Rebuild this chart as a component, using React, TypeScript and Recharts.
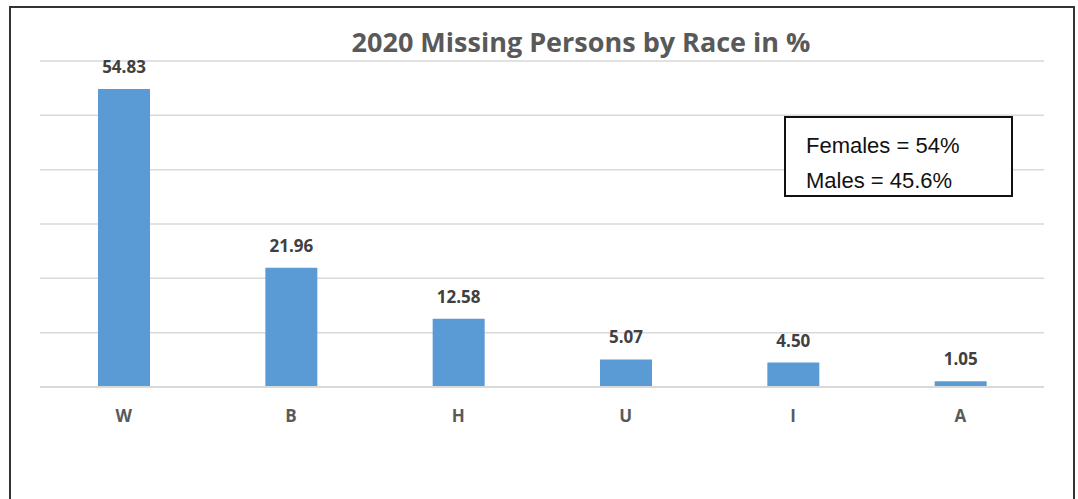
import React from 'react';
import { BarChart, Bar, XAxis, YAxis, CartesianGrid, LabelList } from 'recharts';

const races = ['W', 'B', 'H', 'U', 'I', 'A'];
const percents = [54.83, 21.96, 12.58, 5.07, 4.5, 1.05];
const yTicks = [0, 10, 20, 30, 40, 50, 60];
const notes = ['Females = 54%', 'Males = 45.6%'];

const data = races.map((race, i) => ({ race, value: percents[i] }));

const FONT = '"Open Sans", "Liberation Sans", sans-serif';

export default function App() {
  return (
    <div style={{ position: 'fixed', left: 0, top: 0, width: 1078, height: 499, overflow: 'hidden', background: '#fff', fontFamily: FONT }}>
      <div style={{ position: 'absolute', left: 9, top: 6, width: 1066, height: 520, border: '2px solid #333', boxSizing: 'border-box' }} />
      <div style={{ position: 'absolute', left: 0, width: 1162, top: 24, textAlign: 'center', fontSize: 27, fontWeight: 700, color: '#595959', lineHeight: '36px' }}>
        2020 Missing Persons by Race in %
      </div>
      <div style={{ position: 'absolute', left: 0, top: 0 }}>
        <BarChart width={1078} height={499} data={data} margin={{ top: 61, right: 34, bottom: 82, left: 40 }}>
          <CartesianGrid vertical={false} stroke="#d9d9d9" strokeWidth={1.5} />
          <YAxis hide domain={[0, 60]} ticks={yTicks} />
          <XAxis
            dataKey="race"
            tickLine={false}
            axisLine={{ stroke: '#d9d9d9', strokeWidth: 2 }}
            tickMargin={17}
            tick={{ fill: '#595959', fontSize: 17, fontWeight: 700, fontFamily: FONT }}
          />
          <Bar dataKey="value" fill="#5b9bd5" barSize={52} isAnimationActive={false}>
            <LabelList
              dataKey="value"
              position="top"
              offset={16}
              formatter={(v: number) => v.toFixed(2)}
              fill="#404040"
              fontSize={17}
              fontWeight={700}
              fontFamily={FONT}
            />
          </Bar>
        </BarChart>
      </div>
      <div style={{ position: 'absolute', left: 784, top: 116, width: 229, height: 81, border: '2px solid #111', boxSizing: 'border-box', background: '#fff', padding: '10px 0 0 20px', fontSize: 22, color: '#111', lineHeight: '35px', fontFamily: '"Liberation Sans", "Open Sans", sans-serif' }}>
        {notes.map((n) => (
          <div key={n}>{n}</div>
        ))}
      </div>
    </div>
  );
}
